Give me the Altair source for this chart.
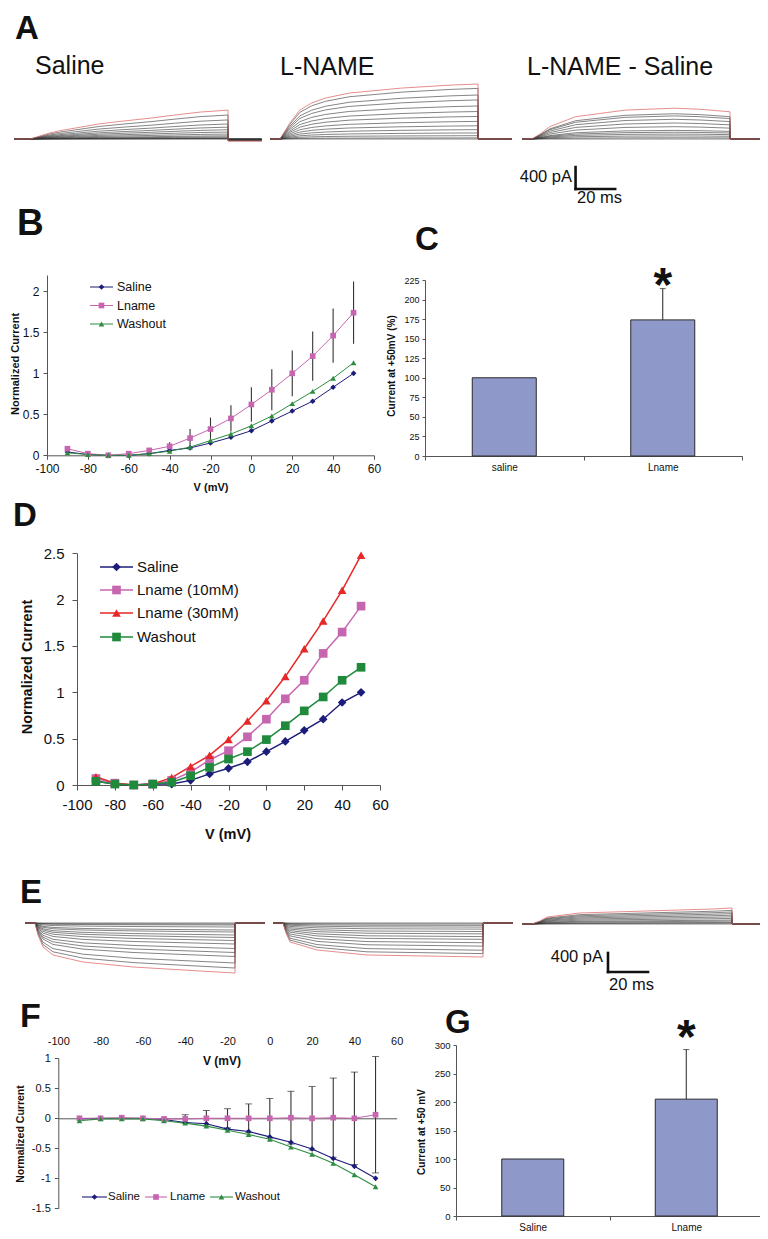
import altair as alt
import pandas as pd

# ---------------- values ----------------
V = [-90, -80, -70, -60, -50, -40, -30, -20, -10, 0, 10, 20, 30, 40, 50]
V_TICKS = [-100, -80, -60, -40, -20, 0, 20, 40, 60]

B_NAMES = ["Saline", "Lname", "Washout"]
B_SALINE = [0.04, 0.01, 0.00, 0.00, 0.02, 0.06, 0.09, 0.15, 0.22, 0.30, 0.42, 0.54, 0.66, 0.83, 1.00]
B_LNAME = [0.08, 0.02, 0.00, 0.02, 0.06, 0.11, 0.21, 0.32, 0.45, 0.62, 0.80, 1.00, 1.21, 1.46, 1.74]
B_LNAME_SE = [0.00, 0.00, 0.00, 0.01, 0.02, 0.05, 0.11, 0.14, 0.16, 0.21, 0.25, 0.28, 0.30, 0.33, 0.38]
B_WASHOUT = [0.03, 0.01, 0.00, 0.00, 0.02, 0.05, 0.10, 0.18, 0.26, 0.36, 0.48, 0.63, 0.78, 0.94, 1.13]

C_GROUPS = ["saline", "Lname"]
C_MEAN = [100, 174]
C_ERR = [0, 40]

D_NAMES = ["Saline", "Lname (10mM)", "Lname (30mM)", "Washout"]
D_SALINE = [0.04, 0.01, 0.00, 0.01, 0.01, 0.05, 0.12, 0.18, 0.25, 0.36, 0.47, 0.59, 0.71, 0.89, 1.00]
D_L10 = [0.07, 0.02, 0.00, 0.01, 0.05, 0.14, 0.27, 0.37, 0.52, 0.71, 0.93, 1.13, 1.42, 1.65, 1.93]
D_L30 = [0.09, 0.02, 0.00, 0.01, 0.08, 0.20, 0.32, 0.49, 0.69, 0.91, 1.17, 1.47, 1.77, 2.10, 2.48]
D_WASH = [0.04, 0.01, 0.00, 0.01, 0.03, 0.10, 0.19, 0.28, 0.36, 0.49, 0.64, 0.80, 0.95, 1.13, 1.27]

F_NAMES = ["Saline", "Lname", "Washout"]
F_SALINE = [-0.01, 0.00, 0.00, 0.00, -0.02, -0.07, -0.09, -0.18, -0.22, -0.31, -0.40, -0.51, -0.67, -0.80, -1.00]
F_LNAME = [0.00, 0.00, 0.01, 0.00, -0.01, -0.01, 0.00, 0.00, 0.00, 0.00, 0.01, 0.00, 0.01, 0.00, 0.06]
F_LNAME_SE = [0.00, 0.00, 0.00, 0.00, 0.01, 0.07, 0.13, 0.16, 0.24, 0.33, 0.44, 0.53, 0.66, 0.77, 0.97]
F_WASHOUT = [-0.04, -0.01, -0.01, -0.01, -0.04, -0.08, -0.13, -0.20, -0.27, -0.35, -0.48, -0.60, -0.75, -0.94, -1.14]

G_GROUPS = ["Saline", "Lname"]
G_MEAN = [100, 205]
G_ERR = [0, 87]

# current traces: time (ms) from step onset, outermost (red) sweep in pA,
# inner sweeps as fractions of the outermost one, tail current after the step
A1_T = [0, 5, 10, 15, 23, 35, 48, 61, 73, 86, 100]
A1_ENV = [0, 55, 110, 150, 200, 275, 330, 380, 435, 490, 525]
A1_FRAC = [0.83, 0.66, 0.52, 0.41, 0.32, 0.24, 0.17, 0.11, 0.07, 0.04, 0.02, 0.01, 0.0]
A1_TAIL = -40
A2_T = [0, 5, 10, 16, 23, 35, 61, 86, 100]
A2_ENV = [0, 290, 525, 655, 745, 835, 925, 980, 1000]
A2_FRAC = [0.92, 0.80, 0.71, 0.60, 0.50, 0.41, 0.32, 0.24, 0.17, 0.11, 0.06, 0.02, 0.0]
A2_TAIL = 0
A3_T = [0, 4, 9, 22, 47, 72, 85, 100]
A3_ENV = [0, 90, 225, 405, 525, 560, 540, 495]
A3_FRAC = [0.82, 0.75, 0.64, 0.52, 0.40, 0.28, 0.22, 0.16, 0.10, 0.04, 0.0]
A3_TAIL = 0

E1_T = [0, 1.5, 4, 9, 24, 49, 74, 100]
E1_ENV = [0, -253, -505, -674, -821, -926, -989, -1053]
E1_FRAC = [0.90, 0.80, 0.67, 0.59, 0.51, 0.42, 0.35, 0.29, 0.24, 0.18, 0.14, 0.08, 0.04, 0.02, 0.0]
E2_T = [0, 1.5, 3.5, 17, 42, 100]
E2_ENV = [0, -210, -400, -568, -674, -716]
E2_FRAC = [0.90, 0.80, 0.68, 0.58, 0.48, 0.40, 0.32, 0.25, 0.18, 0.12, 0.07, 0.03, 0.0]
E3_T = [0, 4, 7.5, 24, 57.5, 90.5, 100]
E3_ENV = [0, 63, 147, 232, 274, 316, 337]
E3_FRAC = [0.85, 0.75, 0.65, 0.55, 0.45, 0.35, 0.25, 0.18, 0.10, 0.05, 0.0]

SCALE_PA = 400
SCALE_MS = 20

# ---------------- layout helpers (page pixels -> chart pixels) ----------------
W, H = 752, 1223
M = 8
FONT = "Liberation Sans"
NEG = "datum.value < 0 ? '-' + format(-datum.value, '~g') : format(datum.value, '~g')"
AXC = "#555555"


def px(x):
    return x - M


def py(y):
    return y - M


def qscale(dom, a, b):
    return alt.Scale(domain=dom, range=[a, b], nice=False, zero=False)


def xsc(dom, x0, x1):
    return qscale(dom, px(x0), px(x1))


def ysc(dom, top, bottom):
    return qscale(dom, py(bottom), py(top))


def axis(**kw):
    base = dict(grid=False, domainColor=AXC, tickColor=AXC, labelColor="#111111",
                labelFont=FONT, title=None, labelOverlap=False, labelFlush=False)
    base.update(kw)
    return alt.Axis(**base)


layers = []


def add_traces(t, env, fracs, tail, xdom, x0, x1, ydom, top, bottom):
    rows_s, rows_e = [], []
    for k, f in enumerate(fracs + [1.0]):
        seq = [(xdom[0], 0.0), (t[0], 0.0)] + [(a, f * b) for a, b in zip(t, env)]
        seq += [(t[-1], f * tail), (xdom[1], f * tail)]
        target = rows_e if k == len(fracs) else rows_s
        for j, (a, b) in enumerate(seq):
            target.append({"sweep": k, "t": a, "i": b, "o": j})
    xs = xsc(xdom, x0, x1)
    ys = ysc(ydom, top, bottom)
    enc = dict(x=alt.X("t:Q", scale=xs, axis=None), y=alt.Y("i:Q", scale=ys, axis=None),
               detail="sweep:N", order="o:Q")
    layers.append(alt.Chart(pd.DataFrame(rows_s)).mark_line(color="#333333", strokeWidth=0.6).encode(**enc))
    layers.append(alt.Chart(pd.DataFrame(rows_e)).mark_line(color="#e07070", strokeWidth=0.8).encode(**enc))
    return xs, ys


def add_scalebar(xs, ys, t0, i0):
    df = pd.DataFrame({"t": [t0, t0], "t2": [t0, t0 + SCALE_MS], "i": [i0, i0], "i2": [i0 + SCALE_PA, i0]})
    layers.append(alt.Chart(df).mark_rule(color="#111111", strokeWidth=2.6, strokeCap="square").encode(
        x=alt.X("t:Q", scale=xs, axis=None), x2="t2:Q",
        y=alt.Y("i:Q", scale=ys, axis=None), y2="i2:Q"))


def add_text(rows, size, weight="normal", align="left", baseline="alphabetic", angle=0):
    df = pd.DataFrame(rows, columns=["text", "x", "y"])
    df["x"] = df["x"] - M
    df["y"] = df["y"] - M
    layers.append(alt.Chart(df).mark_text(fontSize=size, fontWeight=weight, align=align, baseline=baseline,
                                          angle=angle, color="#111111", font=FONT).encode(
        x=alt.X("x:Q", scale=None, axis=None), y=alt.Y("y:Q", scale=None, axis=None), text="text:N"))


def add_iv(names, series, colors, shapes, xs, ys, xaxis, yaxis, lw, msize, err=None, cap=0):
    rows = []
    for n, vals in zip(names, series):
        for v, c in zip(V, vals):
            rows.append({"V": v, "I": c, "series": n})
    df = pd.DataFrame(rows)
    col = alt.Scale(domain=names, range=colors)
    shp = alt.Scale(domain=names, range=shapes)
    if err is not None:
        ename, evals, ese = err
        edf = pd.DataFrame({"V": V, "lo": [a - b for a, b in zip(evals, ese)], "hi": [a + b for a, b in zip(evals, ese)]})
        edf = edf[edf["hi"] - edf["lo"] > 0.015]
        layers.append(alt.Chart(edf).mark_rule(color="#333333", strokeWidth=1.1).encode(
            x=alt.X("V:Q", scale=xs, axis=None), y=alt.Y("lo:Q", scale=ys, axis=None), y2="hi:Q"))
        if cap:
            for fld in ["lo", "hi"]:
                layers.append(alt.Chart(edf).mark_tick(orient="horizontal", size=cap, thickness=1, color="#333333").encode(
                    x=alt.X("V:Q", scale=xs, axis=None), y=alt.Y(f"{fld}:Q", scale=ys, axis=None)))
    layers.append(alt.Chart(df).mark_line(strokeWidth=lw).encode(
        x=alt.X("V:Q", scale=xs, axis=xaxis), y=alt.Y("I:Q", scale=ys, axis=yaxis),
        color=alt.Color("series:N", scale=col, legend=None)))
    layers.append(alt.Chart(df).mark_point(filled=True, opacity=1, size=msize).encode(
        x=alt.X("V:Q", scale=xs, axis=None), y=alt.Y("I:Q", scale=ys, axis=None),
        color=alt.Color("series:N", scale=col, legend=None),
        shape=alt.Shape("series:N", scale=shp, legend=None)))


def add_legend(names, colors, shapes, items, fs, lw, msize):
    # items: per entry (line x0, line x1, text x, y) in page pixels
    df = pd.DataFrame({"name": names,
                       "lx0": [px(i[0]) for i in items], "lx1": [px(i[1]) for i in items],
                       "mx": [px((i[0] + i[1]) / 2) for i in items], "tx": [px(i[2]) for i in items],
                       "ly": [py(i[3]) for i in items]})
    col = alt.Scale(domain=names, range=colors)
    shp = alt.Scale(domain=names, range=shapes)
    y = alt.Y("ly:Q", scale=None, axis=None)
    layers.append(alt.Chart(df).mark_rule(strokeWidth=lw).encode(
        x=alt.X("lx0:Q", scale=None, axis=None), x2="lx1:Q", y=y,
        color=alt.Color("name:N", scale=col, legend=None)))
    layers.append(alt.Chart(df).mark_point(filled=True, opacity=1, size=msize).encode(
        x=alt.X("mx:Q", scale=None, axis=None), y=y, color=alt.Color("name:N", scale=col, legend=None),
        shape=alt.Shape("name:N", scale=shp, legend=None)))
    layers.append(alt.Chart(df).mark_text(align="left", baseline="middle", fontSize=fs, font=FONT,
                                          color="#111111").encode(
        x=alt.X("tx:Q", scale=None, axis=None), y=y, text="name:N"))


def add_bars(groups, means, errs, x0, x1, ymax, ybottom, ytop, yvals, barw, star_y, ylabfs):
    df = pd.DataFrame({"grp": groups, "val": means, "hi": [m + e for m, e in zip(means, errs)], "err": errs})
    xs = alt.Scale(domain=groups, range=[px(x0), px(x1)], paddingInner=0, paddingOuter=0)
    ys = ysc([0, ymax], ytop, ybottom)
    xa = axis(orient="bottom", offset=py(ybottom) - H, tickBand="extent", labelAngle=0, tickSize=4,
              labelPadding=2, labelFontSize=10)
    ya = axis(orient="left", offset=-px(x0), values=yvals, tickSize=3, labelPadding=3, labelFontSize=ylabfs)
    edf = df[df["err"] > 0]
    layers.append(alt.Chart(edf).mark_rule(color="#222222", strokeWidth=1).encode(
        x=alt.X("grp:N", scale=xs, axis=None), y=alt.Y("val:Q", scale=ys, axis=None), y2="hi:Q"))
    layers.append(alt.Chart(edf).mark_tick(orient="horizontal", size=6, thickness=1, color="#222222").encode(
        x=alt.X("grp:N", scale=xs, axis=None), y=alt.Y("hi:Q", scale=ys, axis=None)))
    layers.append(alt.Chart(df).mark_bar(size=barw, color="#8f99c9", stroke="#2a2a2a", strokeWidth=1).encode(
        x=alt.X("grp:N", scale=xs, axis=xa, sort=groups), y=alt.Y("val:Q", scale=ys, axis=ya)))
    sdf = pd.DataFrame({"grp": [groups[-1]], "s": ["*"]})
    layers.append(alt.Chart(sdf).mark_text(fontSize=48, fontWeight="bold", font=FONT, color="#111111",
                                           baseline="alphabetic").encode(
        x=alt.X("grp:N", scale=xs, axis=None), y=alt.value(py(star_y)), text="s:N"))


# ---------------- panel A: traces ----------------
AY = ([-1000, 2000], 29, 194)
add_traces(A1_T, A1_ENV, A1_FRAC, A1_TAIL, [-8, 117], 14.2, 261.7, *AY)
add_traces(A2_T, A2_ENV, A2_FRAC, A2_TAIL, [-5, 117], 270.1, 511.7, *AY)
a3x, a3y = add_traces(A3_T, A3_ENV, A3_FRAC, A3_TAIL, [-5, 115], 522.1, 759.7, *AY)
add_scalebar(a3x, a3y, 22, -910)

# ---------------- panel B ----------------
BC = ["#1c1c7a", "#c766b0", "#2e8c40"]
BS = ["diamond", "square", "triangle-up"]
bx = xsc([-100, 60], 47, 374)
by = ysc([0, 2.2], 275, 455.3)
add_iv(B_NAMES, [B_SALINE, B_LNAME, B_WASHOUT], BC, BS, bx, by,
       axis(orient="bottom", offset=py(455.3) - H, values=V_TICKS, tickSize=4, labelPadding=4,
            labelFontSize=12, labelExpr=NEG),
       axis(orient="left", offset=-px(47), values=[0, 0.5, 1, 1.5, 2], tickSize=4, labelPadding=4,
            labelFontSize=12, labelExpr=NEG),
       1, 32, err=("Lname", B_LNAME, B_LNAME_SE))
add_legend(B_NAMES, BC, BS, [(90, 113, 117, 287), (90, 113, 117, 305.5), (90, 113, 117, 324)], 12.5, 1, 32)

# ---------------- panel C ----------------
add_bars(C_GROUPS, C_MEAN, C_ERR, 425, 742, 225, 456, 280, list(range(0, 226, 25)), 64, 301, 9)

# ---------------- panel D ----------------
DC = ["#1c1c7a", "#c766b0", "#e62828", "#1f8a3c"]
DS = ["diamond", "square", "triangle-up", "square"]
dx = xsc([-100, 60], 77, 380)
dy = ysc([0, 2.5], 553.3, 785)
add_iv(D_NAMES, [D_SALINE, D_L10, D_L30, D_WASH], DC, DS, dx, dy,
       axis(orient="bottom", offset=py(785) - H, values=V_TICKS, tickSize=5, labelPadding=7,
            labelFontSize=15, labelExpr=NEG),
       axis(orient="left", offset=-px(77), values=[0, 0.5, 1, 1.5, 2, 2.5], tickSize=5, labelPadding=8,
            labelFontSize=15, labelExpr=NEG),
       1.5, 75)
add_legend(D_NAMES, DC, DS, [(100, 133, 137, 567), (100, 133, 137, 590), (100, 133, 137, 613),
                             (100, 133, 137, 637)], 15, 1.5, 75)

# ---------------- panel E: traces ----------------
add_traces(E1_T, E1_ENV, E1_FRAC, 0, [-5, 115], 25, 265, [-1500, 1000], 875.5, 994.25)
add_traces(E2_T, E2_ENV, E2_FRAC, 0, [-5, 115], 273, 513, [-1500, 1000], 875.5, 994.25)
e3x, e3y = add_traces(E3_T, E3_ENV, E3_FRAC, 0, [-5, 114], 522, 760, [-1500, 1000], 876.5, 995.25)
add_scalebar(e3x, e3y, 38, -1010)

# ---------------- panel F ----------------
fx = xsc([-100, 60], 58.3, 396.7)
fy = ysc([-1.5, 1], 1058.3, 1208.3)
add_iv(F_NAMES, [F_SALINE, F_LNAME, F_WASHOUT], BC, BS, fx, fy,
       axis(orient="top", offset=-py(1046), values=V_TICKS, domain=False, ticks=False, labelPadding=0,
            labelFontSize=11, labelExpr=NEG),
       axis(orient="left", offset=-px(58.3), values=[-1.5, -1, -0.5, 0, 0.5, 1], tickSize=4, labelPadding=4,
            labelFontSize=11, labelExpr=NEG),
       1.1, 32, err=("Lname", F_LNAME, F_LNAME_SE), cap=7)
zdf = pd.DataFrame({"V": [V_TICKS[0], V_TICKS[-1]], "I": [0, 0]})
layers.append(alt.Chart(zdf).mark_point(opacity=0).encode(
    x=alt.X("V:Q", scale=fx, axis=axis(orient="bottom", offset=py(1118.3) - H, labels=False, ticks=False)),
    y=alt.Y("I:Q", scale=fy, axis=None)))
add_legend(F_NAMES, BC, BS, [(82, 107, 108, 1197), (145, 167, 170, 1197), (210, 233, 235, 1197)], 11.5, 1.1, 32)

# ---------------- panel G ----------------
add_bars(G_GROUPS, G_MEAN, G_ERR, 456, 763, 300, 1216, 1045, list(range(0, 301, 50)), 62, 1053, 9.5)

# ---------------- texts ----------------
for letter, x, y, fs in [("A", 15, 39, 33), ("B", 17, 235, 37), ("C", 415, 250, 33), ("D", 13, 526, 33),
                         ("E", 20, 903, 33), ("F", 20, 1027, 34), ("G", 445, 1033, 33)]:
    add_text([(letter, x, y)], fs, weight="bold")
add_text([("Saline", 35, 74), ("L-NAME", 280, 75), ("L-NAME - Saline", 527, 75)], 25)
add_text([("400 pA", 572, 182), ("400 pA", 603, 962)], 16.5, align="right")
add_text([("20 ms", 577, 203), ("20 ms", 609, 990)], 16.5)
add_text([("V (mV)", 211, 488)], 11, weight="bold", align="center", baseline="middle")
add_text([("Normalized Current", 16, 364)], 11, weight="bold", align="center", baseline="middle", angle=270)
add_text([("Current at +50mV (%)", 392, 366)], 10, weight="bold", align="center", baseline="middle", angle=270)
add_text([("V (mV)", 228, 835)], 14.5, weight="bold", align="center", baseline="middle")
add_text([("Normalized Current", 28, 667)], 14.5, weight="bold", align="center", baseline="middle", angle=270)
add_text([("V (mV)", 222, 1061)], 12, weight="bold", align="center", baseline="middle")
add_text([("Normalized Current", 21, 1134)], 10.5, weight="bold", align="center", baseline="middle", angle=270)
add_text([("Current at +50 mV", 422, 1132)], 10, weight="bold", align="center", baseline="middle", angle=270)

chart = alt.layer(*layers).resolve_scale(
    x="independent", y="independent", color="independent", shape="independent"
).properties(
    width=W, height=H, padding=0, autosize=alt.AutoSizeParams(type="none")
).configure(font=FONT).configure_view(strokeWidth=0).configure_axis(grid=False)

chart.save("out.html", embed_options={"renderer": "svg", "actions": False})
